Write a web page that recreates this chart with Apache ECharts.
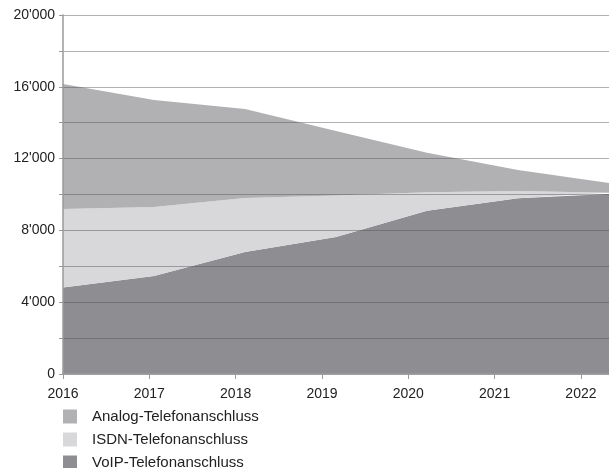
<!DOCTYPE html>
<html>
<head>
<meta charset="utf-8">
<title>Telefonanschlüsse</title>
<script src="https://cdn.jsdelivr.net/npm/echarts@6/dist/echarts.min.js"></script>
<style>
  html, body { margin: 0; padding: 0; background: #fff; }
  #chart { width: 609px; height: 468px; }
</style>
</head>
<body>
<div id="chart"></div>
<script>
// data points (7 evenly spaced samples)
const points = ['2016', '2017', '2018', '2019', '2020', '2021', '2022']
const yearTicks = [2016, 2017, 2018, 2019, 2020, 2021, 2022]

const voip = [4820, 5460, 6800, 7630, 9100, 9790, 10030]
const isdn = [4370, 3840, 3000, 2310, 1030, 410, 70]
const analog = [6970, 5960, 4960, 3600, 2200, 1160, 540]

const seriesNames = ['Analog-Telefonanschluss', 'ISDN-Telefonanschluss', 'VoIP-Telefonanschluss']
const colors = { analog: '#b1b1b4', isdn: '#d8d8da', voip: '#8e8e92' }

const fontFamily = '"Liberation Sans", Arial, sans-serif'
const axisGray = '#9a9a9c'

const chart = echarts.init(document.getElementById('chart'))

const areaSeries = (name, data, color) => ({
  name: name,
  type: 'line',
  stack: 'total',
  data: data,
  symbol: 'none',
  smooth: false,
  z: 1,
  lineStyle: { width: 0, color: color },
  itemStyle: { color: color },
  areaStyle: { color: color, opacity: 1 }
})

const option = {
  animation: false,
  backgroundColor: '#fff',
  textStyle: { fontFamily: fontFamily },
  grid: { left: 63, right: 0, top: 15, bottom: 94, containLabel: false },
  legend: {
    orient: 'vertical',
    left: 63,
    top: 409,
    height: 80,
    padding: 0,
    itemWidth: 14,
    itemHeight: 14,
    itemGap: 8,
    icon: 'rect',
    data: seriesNames,
    textStyle: { fontSize: 15, lineHeight: 14, color: '#222', padding: [0, 0, 0, 10], fontFamily: fontFamily }
  },
  xAxis: [
    {
      type: 'category',
      data: points,
      boundaryGap: false,
      show: false
    },
    {
      type: 'value',
      position: 'bottom',
      min: 2016,
      max: 2022.325,
      z: 3,
      axisLine: { show: true, lineStyle: { color: axisGray, width: 1.5 } },
      axisTick: { show: true, length: 5, customValues: yearTicks, lineStyle: { color: axisGray } },
      axisLabel: {
        customValues: yearTicks,
        color: '#222',
        fontSize: 14,
        margin: 13,
        formatter: v => String(v)
      },
      splitLine: { show: false }
    }
  ],
  yAxis: {
    type: 'value',
    min: 0,
    max: 20000,
    interval: 2000,
    z: 3,
    axisLine: { show: true, lineStyle: { color: axisGray, width: 1.5 } },
    axisTick: { show: true, length: 4, lineStyle: { color: axisGray } },
    axisLabel: {
      color: '#222',
      fontSize: 14,
      margin: 8,
      formatter: v => {
        if (v % 4000 !== 0) return ''
        return String(v).replace(/\B(?=(\d{3})+(?!\d))/g, "'")
      }
    },
    splitLine: { show: true, lineStyle: { color: 'rgba(80,80,85,0.45)', width: 1 } }
  },
  series: [
    areaSeries(seriesNames[2], voip, colors.voip),
    areaSeries(seriesNames[1], isdn, colors.isdn),
    areaSeries(seriesNames[0], analog, colors.analog)
  ]
}

chart.setOption(option)
</script>
</body>
</html>
